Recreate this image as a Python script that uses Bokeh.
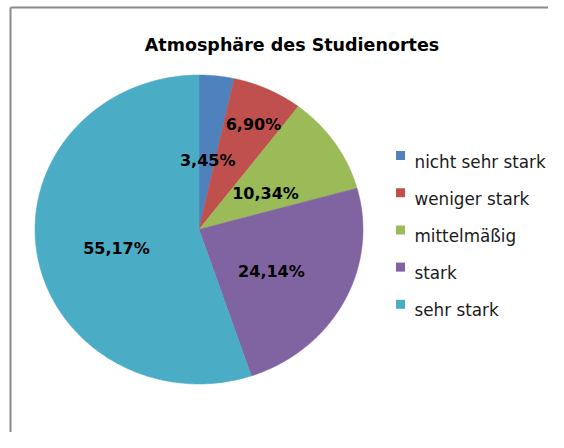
import numpy as np
from bokeh.plotting import figure
from bokeh.models import Range1d, ColumnDataSource
from bokeh.core.properties import value
from bokeh.embed import file_html
from bokeh.resources import INLINE

# ---- data ----
title_text = "Atmosphäre des Studienortes"
categories = ["nicht sehr stark", "weniger stark", "mittelmäßig", "stark", "sehr stark"]
shares = [3.45, 6.90, 10.34, 24.14, 55.17]
share_labels = ["3,45%", "6,90%", "10,34%", "24,14%", "55,17%"]
colors = ["#4F81BD", "#C0504D", "#9BBB59", "#8064A2", "#4BACC6"]

# ---- layout (pixel-like data space) ----
W, H = 548, 432
cx, cy, rx, ry = 198.5, 229.0, 164.0, 154.5
label_r = [0.49, 0.79, 0.49, 0.5, 0.51]
FONT = "DejaVu Sans"

p = figure(width=W, height=H, x_range=Range1d(0, W), y_range=Range1d(H, 0),
           output_backend="svg", toolbar_location=None, min_border=0,
           x_axis_location=None, y_axis_location=None, tools="")
p.grid.visible = False
p.outline_line_color = None
p.background_fill_color = "white"
p.border_fill_color = "white"

# chart border (left and top visible)
p.segment(x0=[10, 10], y0=[7, 7], x1=[10, 700], y1=[700, 7], line_color="#8a8a8a", line_width=2)

# pie slices
total = sum(shares)
cum = np.concatenate([[0.0], np.cumsum(shares)]) / total * 2 * np.pi
xs, ys, lx, ly = [], [], [], []
for i in range(len(shares)):
    t = np.linspace(cum[i], cum[i + 1], 200)
    xs.append([cx] + list(cx + rx * np.sin(t)) + [cx])
    ys.append([cy] + list(cy - ry * np.cos(t)) + [cy])
    m = (cum[i] + cum[i + 1]) / 2
    lx.append(cx + label_r[i] * rx * np.sin(m))
    ly.append(cy - label_r[i] * ry * np.cos(m))

src = ColumnDataSource(dict(xs=xs, ys=ys, color=colors, cat=categories))
p.patches("xs", "ys", source=src, fill_color="color", line_color="color", line_width=0.5)

p.text(x=lx, y=ly, text=share_labels, text_align="center", text_baseline="alphabetic",
       y_offset=6, text_font=value(FONT), text_font_style="bold", text_font_size="16px",
       text_color="black")

# title
p.text(x=[291.5], y=[44], text=[title_text], text_align="center", text_baseline="alphabetic",
       text_font=value(FONT), text_font_style="bold", text_font_size="17.5px", text_color="black")

# legend
leg_y = [155 + 37.2 * i for i in range(len(categories))]
p.rect(x=[400] * len(categories), y=leg_y, width=9, height=9, fill_color=colors, line_color=None)
p.text(x=[414] * len(categories), y=leg_y, text=categories, text_align="left",
       text_baseline="alphabetic", y_offset=6, text_font=value(FONT), text_font_size="16.8px",
       text_color="#1a1a1a")

open("out.html", "w").write(file_html(p, INLINE))
